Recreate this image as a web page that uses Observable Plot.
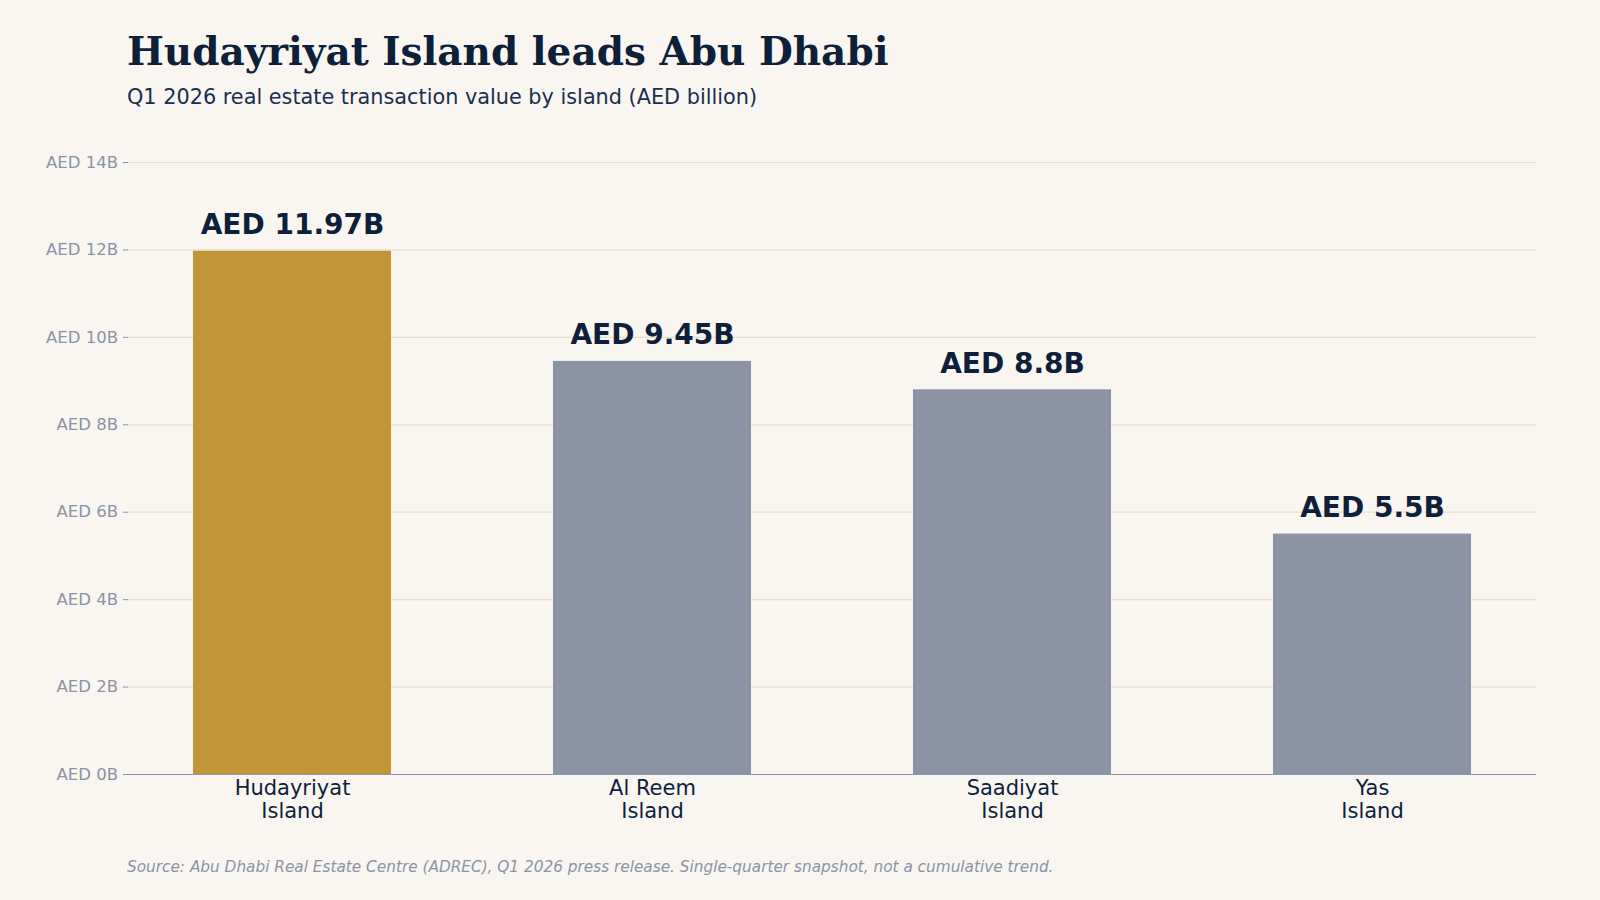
<!DOCTYPE html>
<html>
<head>
<meta charset="utf-8">
<script src="https://cdn.jsdelivr.net/npm/d3@7"></script>
<script src="https://cdn.jsdelivr.net/npm/@observablehq/plot@0.6"></script>
<style>
  html, body { margin: 0; padding: 0; background: #f9f6f1; }
  #root { position: relative; width: 1600px; height: 900px; overflow: hidden; background: #f9f6f1; }
  #title { position: absolute; left: 127px; top: 32px; font-family: "DejaVu Serif", serif; font-weight: bold; font-size: 39px; line-height: 1; color: #0e1f3a; white-space: nowrap; }
  #subtitle { position: absolute; left: 127px; top: 87px; font-family: "DejaVu Sans", sans-serif; font-size: 20.8px; line-height: 1; color: #1a2e50; white-space: nowrap; }
  #chart { position: absolute; left: 0; top: 120px; }
  #source { position: absolute; left: 127px; top: 860px; font-family: "DejaVu Sans", sans-serif; font-style: italic; font-size: 15.3px; line-height: 1; color: #8a93a6; white-space: nowrap; }
</style>
</head>
<body>
<div id="root">
  <div id="title">Hudayriyat Island leads Abu Dhabi</div>
  <div id="subtitle">Q1 2026 real estate transaction value by island (AED billion)</div>
  <div id="chart"></div>
  <div id="source">Source: Abu Dhabi Real Estate Centre (ADREC), Q1 2026 press release. Single-quarter snapshot, not a cumulative trend.</div>
</div>
<script>
const islands = ["Hudayriyat Island", "Al Reem Island", "Saadiyat Island", "Yas Island"];
const values = [11.97, 9.45, 8.8, 5.5];
const yTicks = [0, 2, 4, 6, 8, 10, 12, 14];

const data = islands.map((island, i) => ({island, value: values[i]}));
const leader = islands[values.indexOf(d3.max(values))];

const GOLD = "#c29538";
const GRAY = "#8b93a5";
const NAVY = "#0e1f3a";

const chart = Plot.plot({
  width: 1600,
  height: 714,
  marginLeft: 128,
  marginRight: 64,
  marginTop: 42,
  marginBottom: 60,
  style: {fontFamily: "DejaVu Sans, sans-serif", background: "transparent"},
  x: {domain: islands, paddingInner: 0.451, paddingOuter: 0.177, label: null},
  y: {domain: [0, 14], label: null},
  marks: [
    Plot.gridY(yTicks, {stroke: "#e8dfcf", strokeOpacity: 1, strokeWidth: 1.2}),
    Plot.axisY(yTicks, {
      tickFormat: d => `AED ${d}B`,
      fontSize: 16.5,
      color: "#8a93a6",
      tickSize: 5,
      tickPadding: 5.5,
      label: null
    }),
    Plot.barY(data, {
      x: "island",
      y: "value",
      fill: d => d.island === leader ? GOLD : GRAY
    }),
    Plot.ruleY([0], {stroke: "#8a96b0", strokeWidth: 1.2, insetLeft: -5}),
    Plot.axisX({
      tickFormat: d => d.replace(/ (?=\S+$)/, "\n"),
      fontSize: 21,
      color: NAVY,
      tickSize: 0,
      tickPadding: 4,
      lineHeight: 1.1,
      label: null
    }),
    Plot.text(data, {
      x: "island",
      y: "value",
      text: d => `AED ${d.value}B`,
      fontSize: 28,
      fontWeight: "bold",
      fill: NAVY,
      lineAnchor: "bottom",
      dy: -17
    })
  ]
});
document.getElementById("chart").appendChild(chart);
</script>
</body>
</html>
